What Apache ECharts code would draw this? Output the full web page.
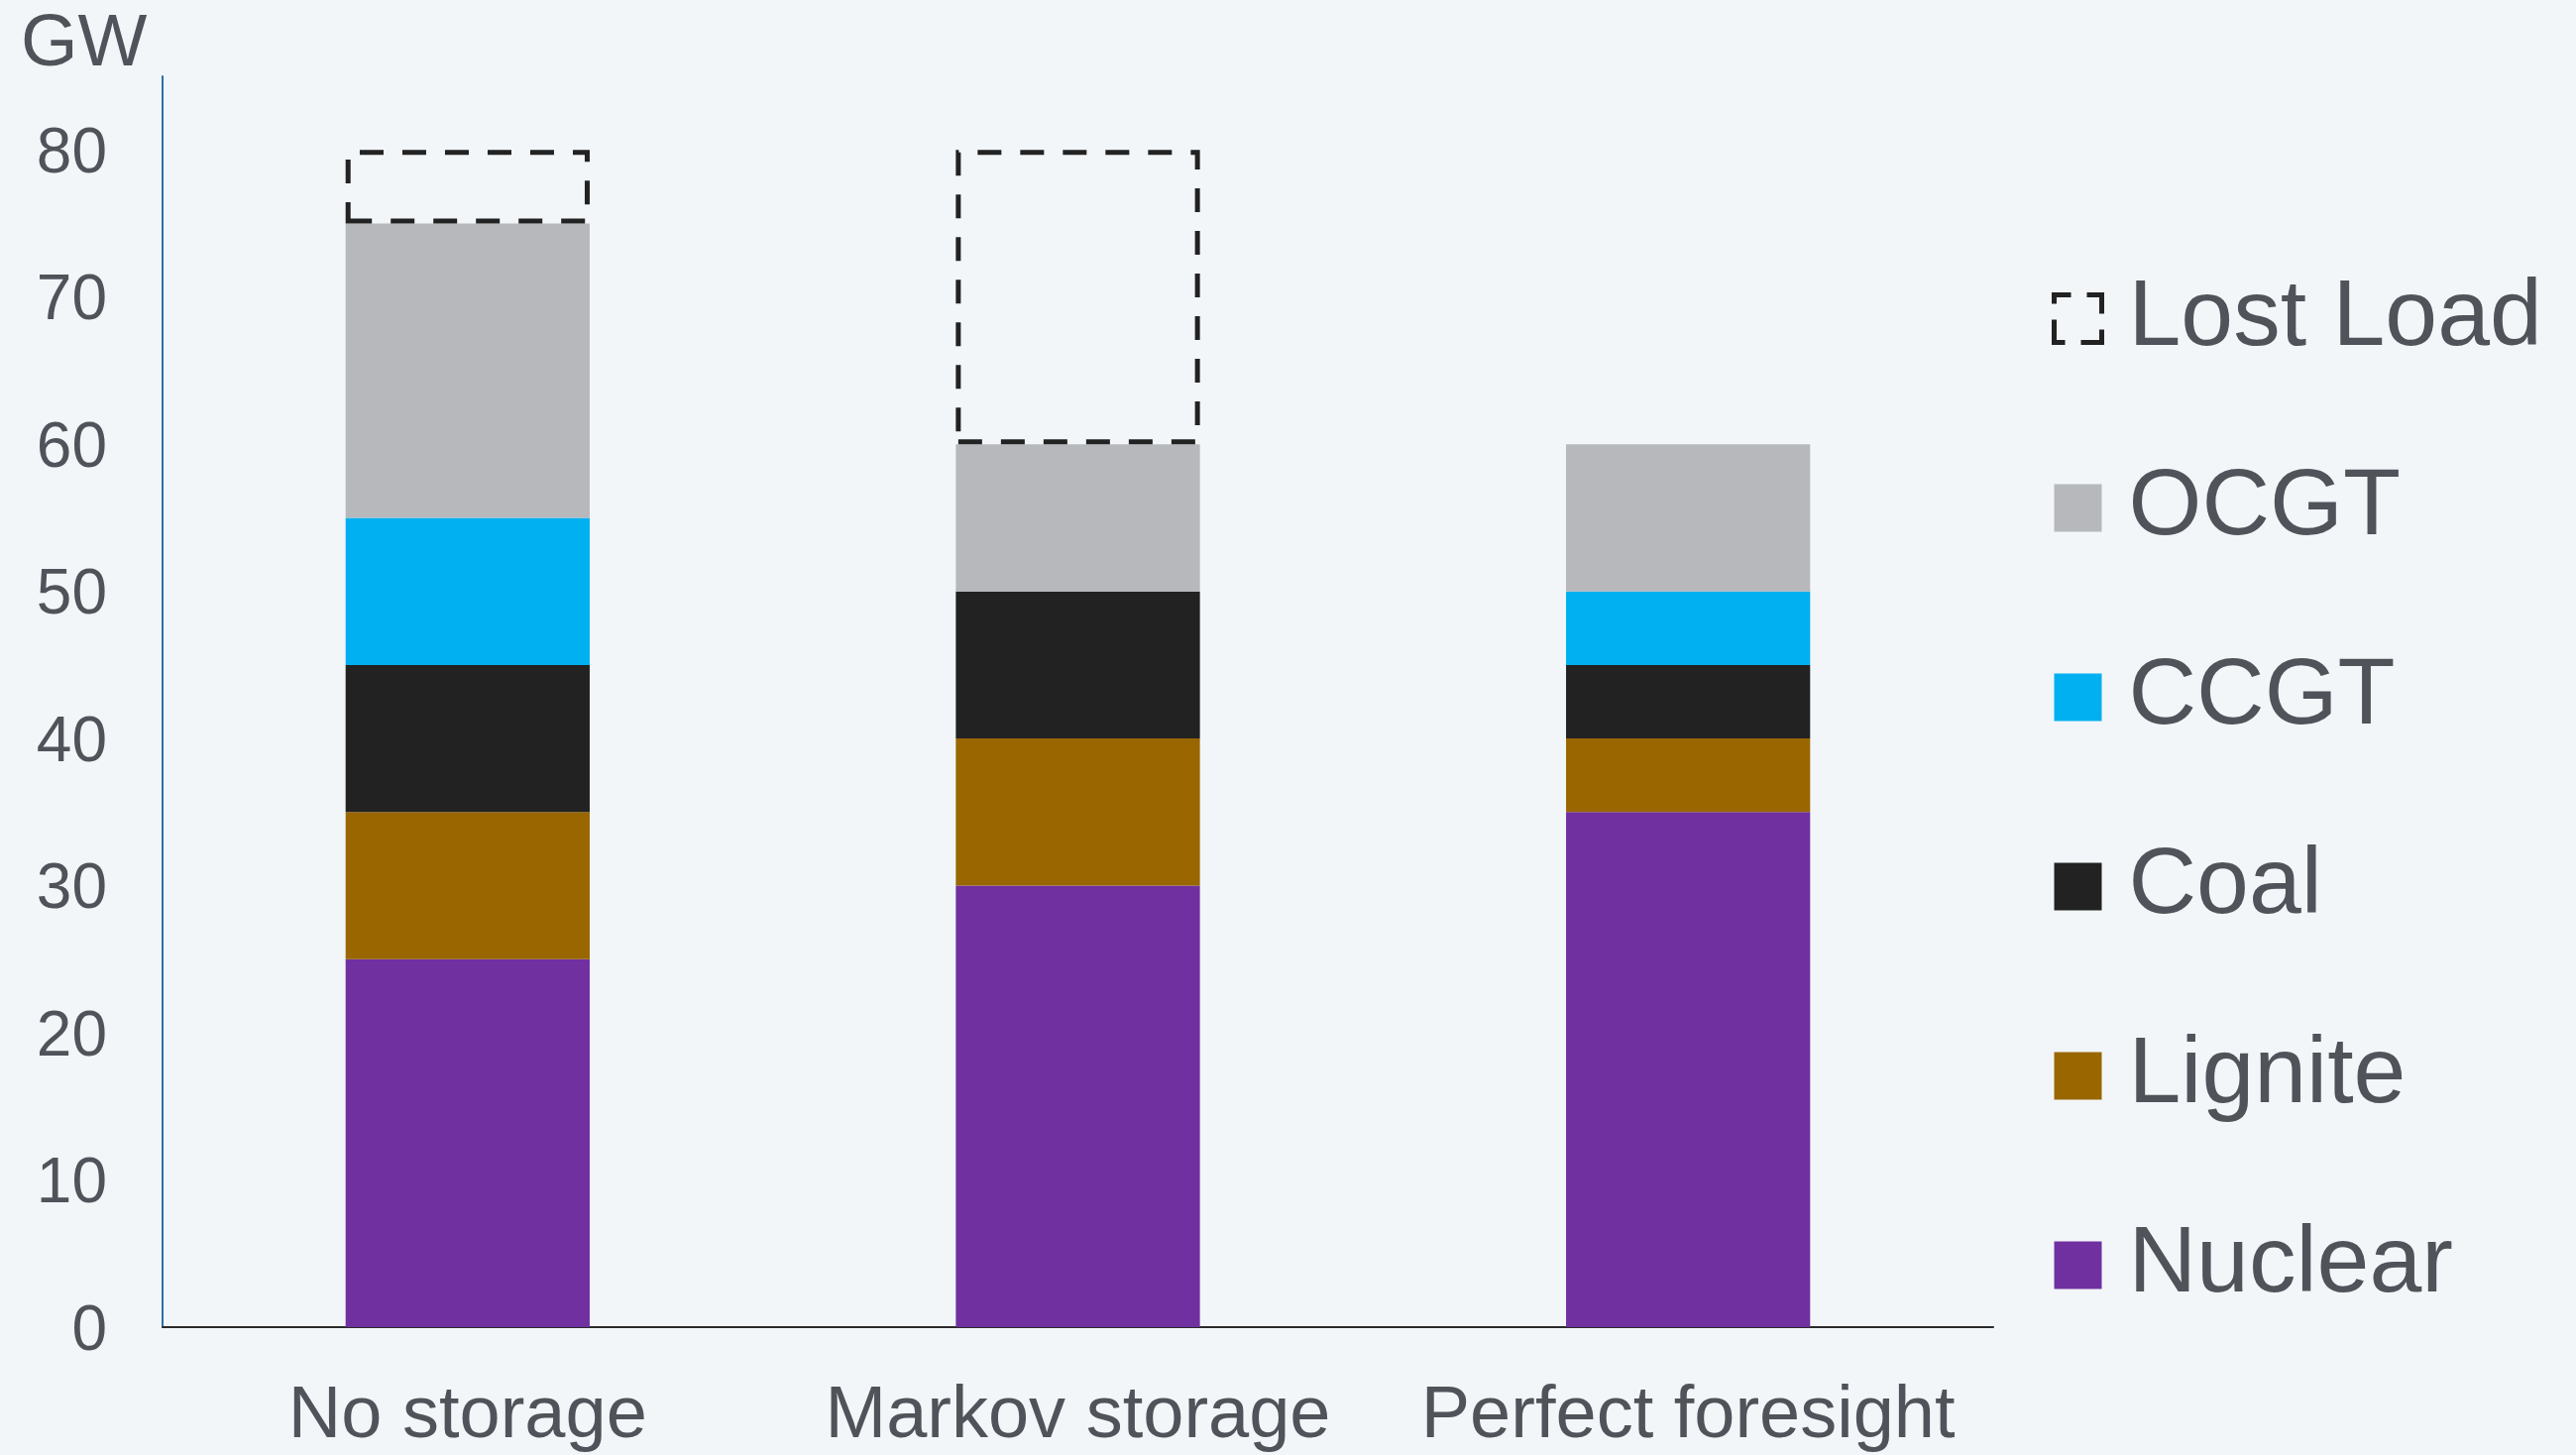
<!DOCTYPE html>
<html>
<head>
<meta charset="utf-8">
<script src="https://cdn.jsdelivr.net/npm/echarts@6/dist/echarts.min.js"></script>
<style>
  html, body { margin: 0; padding: 0; background: #F2F6F9; }
  #chart { width: 2599px; height: 1468px; }
</style>
</head>
<body>
<div id="chart"></div>
<script>
// Scenarios on the x axis
const categories = ['No storage', 'Markov storage', 'Perfect foresight'];

// Dispatched capacity per technology, GW (stacked bottom to top)
const nuclear  = [25, 30, 35];
const lignite  = [10, 10, 5];
const coal     = [10, 10, 5];
const ccgt     = [10, 0, 5];
const ocgt     = [20, 10, 10];
const lostLoad = [5, 20, 0];

// Y axis range and tick spacing
const yMin = 0;
const yMax = 85;
const yStep = 10;

const textColor = '#50545A';
const font = 'Liberation Sans, Arial, sans-serif';

// Dashed outline used for unserved demand
const lostLoadStyle = {
  color: 'rgba(0,0,0,0)',
  borderColor: '#222222',
  borderWidth: 5,
  borderType: [24, 19]
};

function solid(name, data, color) {
  return {
    name, type: 'bar', stack: 'total', data,
    barWidth: '40%',
    itemStyle: { color },
    emphasis: { disabled: true }
  };
}

const chart = echarts.init(document.getElementById('chart'));
chart.setOption({
  backgroundColor: '#F2F6F9',
  animation: false,
  textStyle: { fontFamily: font },
  title: {
    text: 'GW', left: 16, top: 4,
    textStyle: { fontSize: 74, fontWeight: 'normal', color: textColor, fontFamily: font }
  },
  grid: { left: 164, right: 588, top: 77, bottom: 129, containLabel: false },
  legend: {
    data: [
      {
        name: 'Lost Load',
        itemStyle: {
          color: 'rgba(0,0,0,0)',
          borderColor: '#222222',
          borderWidth: 5,
          borderType: [34, 16],
          borderDashOffset: 17
        }
      },
      'OCGT', 'CCGT', 'Coal', 'Lignite', 'Nuclear'
    ],
    orient: 'vertical',
    icon: 'rect',
    padding: 0,
    left: 2070, top: 274,
    itemWidth: 48, itemHeight: 48,
    itemGap: 96,
    textStyle: { fontSize: 95, color: textColor, fontFamily: font, padding: [0, 0, 0, 22] }
  },
  xAxis: {
    type: 'category',
    data: categories,
    axisLine: { lineStyle: { color: '#2B2B2B', width: 2 } },
    axisTick: { show: false },
    axisLabel: { fontSize: 74, color: textColor, margin: 54, interval: 0 }
  },
  yAxis: {
    type: 'value',
    min: yMin, max: yMax, interval: yStep,
    axisLine: { show: true, lineStyle: { color: '#2A72A8', width: 2 } },
    axisTick: { show: false },
    splitLine: { show: false },
    axisLabel: {
      color: textColor, margin: 56, showMaxLabel: false,
      formatter: v => '{v|' + v + '}',
      rich: { v: { fontSize: 64, color: textColor, fontFamily: font, padding: [10, 0, 0, 0] } }
    }
  },
  series: [
    solid('Nuclear', nuclear, '#7030A0'),
    solid('Lignite', lignite, '#996600'),
    solid('Coal', coal, '#222222'),
    solid('CCGT', ccgt, '#00B0F0'),
    solid('OCGT', ocgt, '#B6B8BC'),
    {
      name: 'Lost Load', type: 'bar', stack: 'total',
      data: lostLoad.map(v => (v === 0 ? null : v)),
      barWidth: '40%',
      itemStyle: lostLoadStyle,
      emphasis: { disabled: true }
    }
  ]
});
</script>
</body>
</html>
